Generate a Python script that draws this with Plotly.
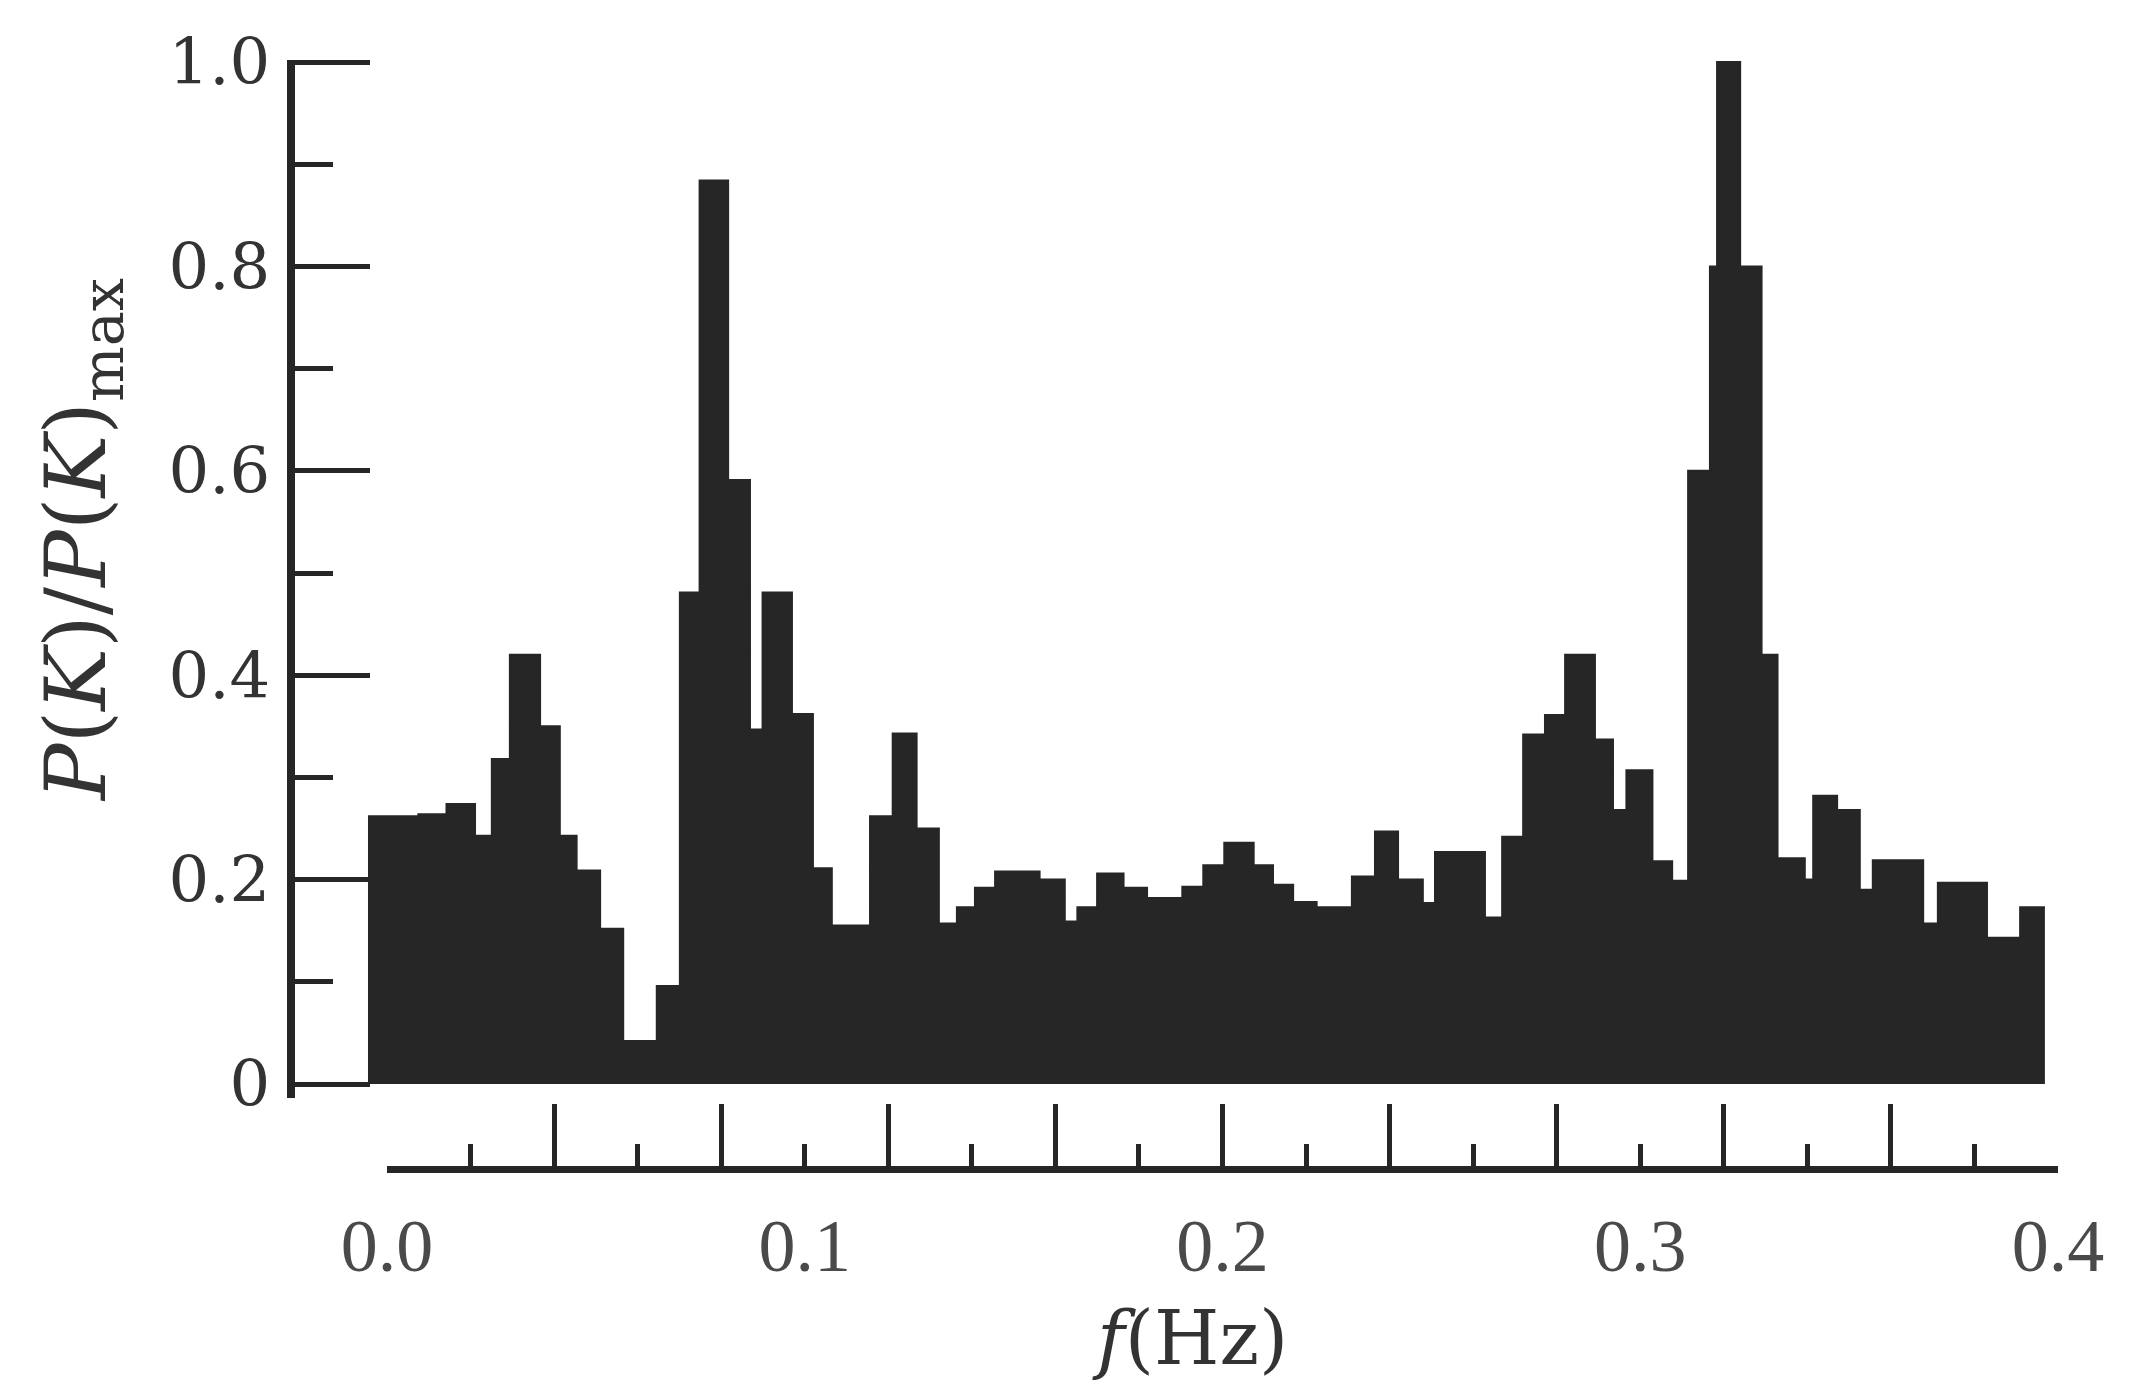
import plotly.graph_objects as go

# ---- data (step spectrum) ----
freq_edges = [0.0000, 0.0120, 0.0187, 0.0255, 0.0295, 0.0338, 0.0410, 0.0457, 0.0497, 0.0553,
              0.0608, 0.0688, 0.0743, 0.0790, 0.0858, 0.0910, 0.0940, 0.1010, 0.1060, 0.1105,
              0.1196, 0.1250, 0.1307, 0.1360, 0.1403, 0.1446, 0.1494, 0.1600, 0.1660, 0.1690,
              0.1737, 0.1800, 0.1856, 0.1940, 0.1990, 0.2040, 0.2110, 0.2156, 0.2204, 0.2260,
              0.2344, 0.2399, 0.2454, 0.2513, 0.2542, 0.2661, 0.2702, 0.2752, 0.2804, 0.2852,
              0.2923, 0.2966, 0.2998, 0.3060, 0.3107, 0.3145, 0.3197, 0.3214, 0.3269, 0.3320,
              0.3358, 0.3423, 0.3443, 0.3500, 0.3554, 0.3585, 0.3705, 0.3740, 0.3857, 0.3936,
              0.3995]

power_ratio = [0.262, 0.264, 0.274, 0.243, 0.318, 0.420, 0.350, 0.243, 0.209, 0.152,
               0.042, 0.096, 0.481, 0.884, 0.591, 0.347, 0.481, 0.362, 0.211, 0.155,
               0.262, 0.343, 0.250, 0.157, 0.173, 0.192, 0.208, 0.200, 0.159, 0.173,
               0.206, 0.192, 0.182, 0.193, 0.214, 0.236, 0.214, 0.195, 0.178, 0.173,
               0.203, 0.247, 0.200, 0.177, 0.227, 0.163, 0.242, 0.342, 0.361, 0.420,
               0.337, 0.268, 0.307, 0.218, 0.199, 0.600, 0.800, 1.000, 0.800, 0.420,
               0.221, 0.200, 0.282, 0.268, 0.190, 0.219, 0.157, 0.197, 0.143, 0.173]

y_tick_vals = [0, 0.2, 0.4, 0.6, 0.8, 1.0]
y_tick_text = ["0", "0.2", "0.4", "0.6", "0.8", "1.0"]
x_tick_vals = [0.0, 0.1, 0.2, 0.3, 0.4]
x_tick_text = ["0.0", "0.1", "0.2", "0.3", "0.4"]

W, H = 2151, 1393
PAGE_MARGIN = 8  # default body margin of the html page
INK = "#262626"


def fx(px):
    return (px - PAGE_MARGIN) / W


def fy(py):
    return (H - (py - PAGE_MARGIN)) / H


fig = go.Figure()

# filled step spectrum
fig.add_trace(go.Scatter(
    x=freq_edges,
    y=power_ratio + [power_ratio[-1]],
    mode="lines",
    line=dict(shape="hv", color=INK, width=2),
    fill="tozeroy",
    fillcolor=INK,
    hoverinfo="skip",
    showlegend=False,
    xaxis="x", yaxis="y",
))
# empty traces registering the separate frequency-scale axis (drawn below the bars)
fig.add_trace(go.Scatter(x=[None], y=[None], xaxis="x2", yaxis="y2", showlegend=False, hoverinfo="skip"))
fig.add_trace(go.Scatter(x=[None], y=[None], xaxis="x3", yaxis="y2", showlegend=False, hoverinfo="skip"))

fig.update_layout(
    width=W, height=H, autosize=False,
    margin=dict(l=0, r=0, t=0, b=0, pad=0),
    paper_bgcolor="white", plot_bgcolor="white",
    xaxis=dict(
        domain=[fx(295), fx(2070)], range=[-0.01739, 0.40548],
        showline=False, showgrid=False, zeroline=False,
        showticklabels=False, ticks="", anchor="y", automargin=False,
    ),
    yaxis=dict(
        domain=[fy(1098), fy(60)], range=[-0.0137, 1.002],
        anchor="x", side="left", automargin=False,
        showline=True, linewidth=8, linecolor=INK,
        showgrid=False, zeroline=False,
        tickmode="array", tickvals=y_tick_vals, ticktext=y_tick_text,
        ticks="inside", ticklen=75, tickwidth=5, tickcolor=INK,
        minor=dict(tickmode="linear", tick0=0, dtick=0.1, ticks="inside",
                   ticklen=38, tickwidth=5, tickcolor=INK, showgrid=False),
        tickfont=dict(family="DejaVu Serif", size=64, color="#333333"),
        ticklabelstandoff=4,
    ),
    yaxis2=dict(
        domain=[fy(1166), fy(1120)], range=[0, 1],
        anchor="x2", visible=False, automargin=False,
    ),
    xaxis2=dict(
        domain=[fx(387), fx(2058)], range=[0, 0.4],
        anchor="y2", side="bottom", automargin=False,
        showline=True, linewidth=7, linecolor=INK,
        showgrid=False, zeroline=False, showticklabels=False,
        tickmode="linear", tick0=0, dtick=0.04,
        ticks="inside", ticklen=62, tickwidth=5, tickcolor=INK,
        minor=dict(tickmode="linear", tick0=0, dtick=0.02, ticks="inside",
                   ticklen=22, tickwidth=5, tickcolor=INK, showgrid=False),
    ),
    xaxis3=dict(
        domain=[fx(387), fx(2058)], range=[0, 0.4],
        overlaying="x2", anchor="y2", side="bottom", automargin=False,
        showline=False, showgrid=False, zeroline=False,
        tickmode="array", tickvals=x_tick_vals, ticktext=x_tick_text,
        ticks="", ticklabelstandoff=30,
        tickfont=dict(family="Liberation Serif", size=74, color="#4a4a4a"),
    ),
    annotations=[
        dict(text="<i>P</i>(<i>K</i>)/<i>P</i>(<i>K</i>)<sub>max</sub>",
             x=fx(82), y=fy(540), xref="paper", yref="paper",
             xanchor="center", yanchor="middle", textangle=-90, showarrow=False,
             font=dict(family="DejaVu Serif", size=84, color="#333333")),
        dict(text="<i>f</i>(Hz)",
             x=fx(1190), y=fy(1338), xref="paper", yref="paper",
             xanchor="center", yanchor="middle", showarrow=False,
             font=dict(family="DejaVu Serif", size=75, color="#333333")),
    ],
)

fig.write_html("out.html")
